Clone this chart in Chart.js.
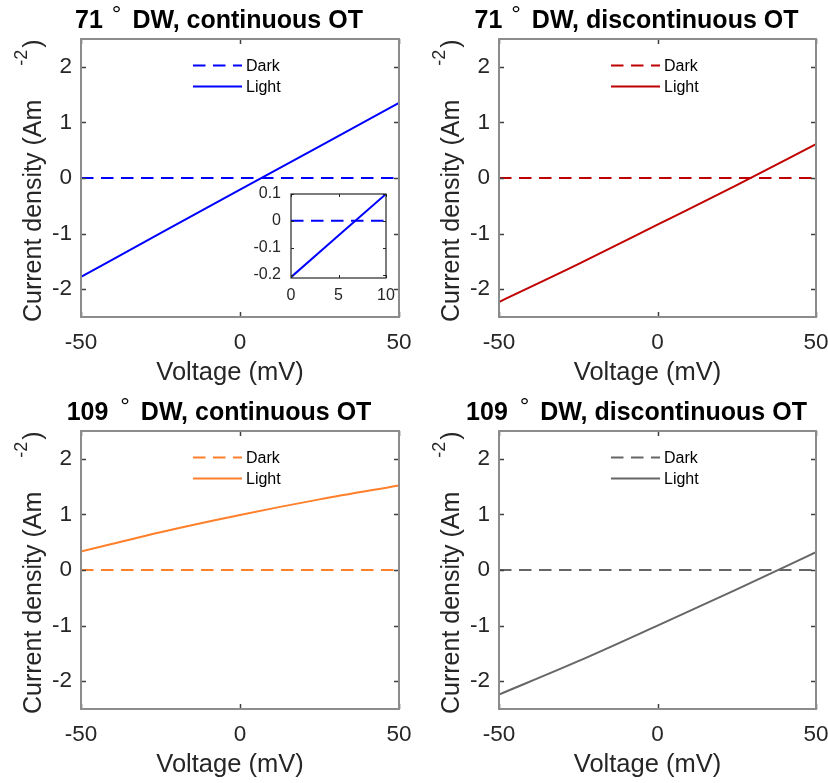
<!DOCTYPE html>
<html>
<head>
<meta charset="utf-8">
<title>Current density vs voltage</title>
<script src="https://cdn.jsdelivr.net/npm/chart.js@4.4.1/dist/chart.umd.min.js"></script>
<style>
  html, body { margin: 0; padding: 0; background: #ffffff; }
  #wrap { position: relative; width: 828px; height: 783px; overflow: hidden; background: #ffffff; }
  canvas { position: absolute; display: block; }
</style>
</head>
<body>
<div id="wrap">
  <canvas id="p1" width="414" height="392" style="left:0;top:0;width:414px;height:392px"></canvas>
  <canvas id="p2" width="414" height="392" style="left:414px;top:0;width:414px;height:392px"></canvas>
  <canvas id="p3" width="414" height="392" style="left:0;top:392px;width:414px;height:392px"></canvas>
  <canvas id="p4" width="414" height="392" style="left:414px;top:392px;width:414px;height:392px"></canvas>
  <canvas id="inset" width="160" height="130" style="left:240px;top:180px;width:160px;height:130px"></canvas>
</div>
<script>
// ---- data ----
const voltage = [-50, -25, 0, 25, 50];            // mV
const darkCurrent = [0, 0, 0, 0, 0];              // A m^-2
const light71Continuous = [-1.78, -0.99, -0.21, 0.57, 1.35];
const light71Discontinuous = [-2.23, -1.55, -0.84, -0.13, 0.61];
const light109Continuous = [0.33, 0.68, 0.99, 1.27, 1.52];
const light109Discontinuous = [-2.24, -1.64, -1.00, -0.35, 0.32];

// zoomed view of the 71° continuous case near the zero crossing
const insetVoltage = [0, 5, 10];
const insetDark = [0, 0, 0];
const insetLight = [-0.21, -0.055, 0.10];

const xTicks = [-50, 0, 50];
const yTicks = [-2, -1, 0, 1, 2];
const insetXTicks = [0, 5, 10];
const insetYTicks = [-0.2, -0.1, 0, 0.1];

const panelAngles = ['71', '71', '109', '109'];
const panelSuffixes = ['DW, continuous OT', 'DW, discontinuous OT', 'DW, continuous OT', 'DW, discontinuous OT'];
const legendLabels = ['Dark', 'Light'];
const xAxisTitle = 'Voltage (mV)';
const yAxisTitleMain = 'Current density (Am';
const yAxisTitleSup = '-2';
const yAxisTitleEnd = ')';

// ---- styling ----
const FONT = '"Liberation Sans", Arial, Helvetica, sans-serif';
const TEXT = '#262626';
const panelColors = ['#0000ff', '#c00000', '#ff7f2a', '#666666'];

const toPoints = (xs, ys) => xs.map((x, i) => ({ x: x, y: ys[i] }));

// box + inward tick marks on all four sides
const framePlugin = {
  id: 'frame',
  afterDraw(chart, args, o) {
    const { ctx, chartArea: a, scales } = chart;
    const xs = scales.x, ys = scales.y;
    ctx.save();
    ctx.strokeStyle = o.tickColor;
    ctx.lineWidth = o.tickWidth;
    ctx.beginPath();
    xs.ticks.forEach(t => {
      const px = Math.round(xs.getPixelForValue(t.value)) + 0.5;
      ctx.moveTo(px, a.bottom); ctx.lineTo(px, a.bottom - o.tickLen);
      ctx.moveTo(px, a.top); ctx.lineTo(px, a.top + o.tickLen);
    });
    ys.ticks.forEach(t => {
      const py = Math.round(ys.getPixelForValue(t.value)) + 0.5;
      ctx.moveTo(a.left, py); ctx.lineTo(a.left + o.tickLen, py);
      ctx.moveTo(a.right, py); ctx.lineTo(a.right - o.tickLen, py);
    });
    ctx.stroke();
    ctx.strokeStyle = o.boxColor;
    ctx.lineWidth = o.boxWidth;
    ctx.strokeRect(a.left, a.top, a.right - a.left, a.bottom - a.top);
    ctx.restore();
  }
};

// title, axis titles and legend of a panel
const decorPlugin = {
  id: 'decor',
  afterDraw(chart, args, o) {
    const { ctx, chartArea: a } = chart;
    const cx = (a.left + a.right) / 2;
    ctx.save();

    // title: "<angle> ° DW, ..."
    ctx.fillStyle = '#000000';
    ctx.font = 'bold 25px ' + FONT;
    ctx.textBaseline = 'alphabetic';
    ctx.textAlign = 'left';
    const p1 = o.angle + ' ';
    const deg = '\u00B0';
    const p2 = ' ' + o.suffix;
    const gap = o.angle.length > 2 ? 5 : 2;
    const w1 = ctx.measureText(p1).width + gap;
    ctx.font = '24px ' + FONT;
    const wd = ctx.measureText(deg).width + 4;
    ctx.font = 'bold 25px ' + FONT;
    const w2 = ctx.measureText(p2).width;
    const tx = cx - 21 - (w1 + wd + w2) / 2;
    const ty = 28;
    ctx.fillText(p1, tx, ty);
    ctx.font = '24px ' + FONT;
    ctx.fillText(deg, tx + w1, ty - 6);
    ctx.font = 'bold 25px ' + FONT;
    ctx.fillText(p2, tx + w1 + wd, ty);

    // x axis title
    ctx.fillStyle = TEXT;
    ctx.font = '25.5px ' + FONT;
    ctx.textAlign = 'center';
    ctx.fillText(xAxisTitle, cx - 10, a.bottom + 63);

    // y axis title, rotated, with superscript
    ctx.save();
    ctx.translate(a.left - 40, a.bottom + 5);
    ctx.rotate(-Math.PI / 2);
    ctx.textAlign = 'left';
    ctx.font = '25px ' + FONT;
    const wm = ctx.measureText(yAxisTitleMain).width;
    ctx.fillText(yAxisTitleMain, 0, 0);
    const supX = wm + 34;
    ctx.font = '18px ' + FONT;
    const ws = ctx.measureText(yAxisTitleSup).width;
    ctx.fillText(yAxisTitleSup, supX, -14);
    ctx.font = '25px ' + FONT;
    ctx.fillText(yAxisTitleEnd, supX + ws + 2, 0);
    ctx.restore();

    // legend
    const ds = chart.data.datasets;
    const lx0 = a.left + 112, lx1 = a.left + 161;
    const rows = [65.5, 86.5];
    ds.forEach((d, i) => {
      const y = rows[i];
      ctx.strokeStyle = d.borderColor;
      ctx.lineWidth = d.borderWidth;
      ctx.setLineDash(d.borderDash || []);
      ctx.beginPath();
      ctx.moveTo(lx0, y); ctx.lineTo(lx1, y);
      ctx.stroke();
      ctx.setLineDash([]);
      ctx.fillStyle = '#000000';
      ctx.font = '16px ' + FONT;
      ctx.textAlign = 'left';
      ctx.textBaseline = 'middle';
      ctx.fillText(d.label, a.left + 165, y + 1);
    });
    ctx.restore();
  }
};

function linearAxis(min, max, ticks, fontSize, pad, fitFn) {
  return {
    type: 'linear',
    min: min, max: max,
    afterBuildTicks: s => { s.ticks = ticks.map(v => ({ value: v })); },
    afterFit: s => {
      fitFn(s);
      // labels may overhang the plot edges; the fixed layout already leaves room
      s.paddingLeft = 0; s.paddingRight = 0; s.paddingTop = 0; s.paddingBottom = 0;
    },
    grid: { display: false, drawTicks: false },
    border: { display: false },
    ticks: {
      font: { family: FONT, size: fontSize },
      color: TEXT, padding: pad,
      maxRotation: 0, autoSkip: false,
      callback: v => String(v)
    }
  };
}

function makePanel(id, lightValues, color, angle, suffix, geom) {
  const canvas = document.getElementById(id);
  const W = canvas.width, H = canvas.height;
  return new Chart(canvas, {
    type: 'line',
    data: {
      datasets: [
        { label: legendLabels[0], data: toPoints(voltage, darkCurrent), borderColor: color,
          borderWidth: 2, borderDash: [12.5, 7.5], pointRadius: 0, fill: false },
        { label: legendLabels[1], data: toPoints(voltage, lightValues), borderColor: color,
          borderWidth: 2, pointRadius: 0, fill: false, cubicInterpolationMode: 'monotone' }
      ]
    },
    options: {
      responsive: false, animation: false, devicePixelRatio: 1,
      layout: { padding: { left: 0, top: geom.top, right: W - geom.right, bottom: 0 } },
      events: [],
      plugins: {
        legend: { display: false }, tooltip: { enabled: false }, title: { display: false },
        frame: { boxColor: '#8c8c8c', boxWidth: 2, tickColor: '#404040', tickWidth: 1.5, tickLen: 5 },
        decor: { angle: angle, suffix: suffix }
      },
      scales: {
        x: linearAxis(-50, 50, xTicks, 22.5, 12, s => { s.height = H - geom.bottom; }),
        y: linearAxis(-2.5, 2.5, yTicks, 22.5, 9, s => { s.width = geom.left; })
      }
    },
    plugins: [framePlugin, decorPlugin]
  });
}

makePanel('p1', light71Continuous, panelColors[0], panelAngles[0], panelSuffixes[0], { left: 81, right: 399, top: 39, bottom: 317 });
makePanel('p2', light71Discontinuous, panelColors[1], panelAngles[1], panelSuffixes[1], { left: 85, right: 402, top: 39, bottom: 317 });
makePanel('p3', light109Continuous, panelColors[2], panelAngles[2], panelSuffixes[2], { left: 81, right: 399, top: 39, bottom: 317 });
makePanel('p4', light109Discontinuous, panelColors[3], panelAngles[3], panelSuffixes[3], { left: 85, right: 402, top: 39, bottom: 317 });

// inset
(function () {
  const canvas = document.getElementById('inset');
  const W = canvas.width, H = canvas.height;
  const g = { left: 51, right: 146, top: 14, bottom: 98 };
  new Chart(canvas, {
    type: 'line',
    data: {
      datasets: [
        { label: legendLabels[0], data: toPoints(insetVoltage, insetDark), borderColor: panelColors[0],
          borderWidth: 2, borderDash: [12.5, 7.5], pointRadius: 0, fill: false },
        { label: legendLabels[1], data: toPoints(insetVoltage, insetLight), borderColor: panelColors[0],
          borderWidth: 2, pointRadius: 0, fill: false }
      ]
    },
    options: {
      responsive: false, animation: false, devicePixelRatio: 1,
      layout: { padding: { left: 0, top: g.top, right: W - g.right, bottom: 0 } },
      events: [],
      plugins: {
        legend: { display: false }, tooltip: { enabled: false }, title: { display: false },
        frame: { boxColor: '#262626', boxWidth: 1.2, tickColor: '#262626', tickWidth: 1, tickLen: 3 }
      },
      scales: {
        x: linearAxis(0, 10, insetXTicks, 16, 8, s => { s.height = H - g.bottom; }),
        y: linearAxis(-0.213, 0.1, insetYTicks, 16, 10, s => { s.width = g.left; })
      }
    },
    plugins: [framePlugin]
  });
})();
</script>
</body>
</html>
